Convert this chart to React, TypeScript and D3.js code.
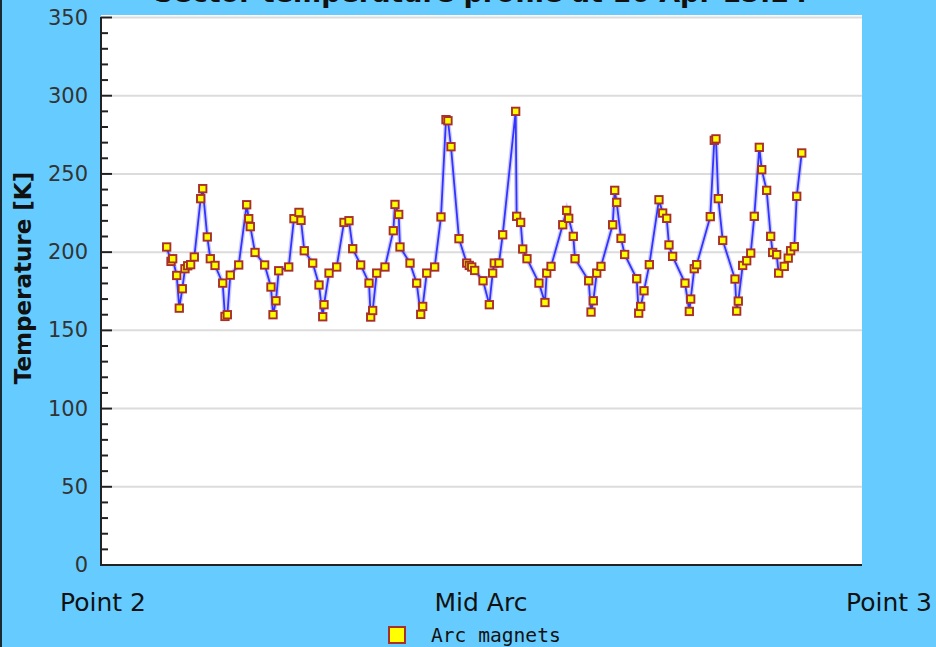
import React from "react";
import * as d3 from "d3";

// Position along the arc (% of the way from Point 2 to Point 3) and sector temperature [K]
const arcPosition: number[] = [
  8.39, 8.96, 9.18, 9.71, 10.05, 10.45, 10.8, 11.16, 11.55, 12.03, 12.87, 13.14, 13.74, 14.14, 14.76,
  15.77, 16.07, 16.38, 16.77, 17.88, 18.93, 19.2, 19.41, 20.03, 21.3, 22.13, 22.4, 22.79, 23.15, 24.47,
  25.16, 25.82, 26.09, 26.52, 27.63, 28.46, 28.95, 29.12, 29.78, 30.79, 31.75, 32.41, 32.9, 33.95, 35.05,
  35.27, 35.53, 36.06, 37.15, 38.25, 38.47, 38.96, 39.13, 40.45, 41.33, 41.86, 42.12, 42.65, 43.7, 44.53,
  45.19, 45.45, 45.85, 46.9, 47.92, 48.26, 48.58, 48.97, 50.07, 50.9, 51.34, 51.55, 52.17, 52.66, 54.37,
  54.5, 55.03, 55.3, 55.86, 57.44, 58.23, 58.46, 59.03, 60.57, 61.09, 61.36, 61.96, 62.19, 63.99, 64.3,
  64.6, 65.05, 65.61, 67.15, 67.42, 67.68, 68.25, 68.73, 70.32, 70.58, 70.84, 71.28, 71.98, 73.25, 73.74,
  74.27, 74.57, 75.05, 76.68, 77.25, 77.43, 77.9, 78.22, 80.01, 80.54, 80.76, 81.07, 81.65, 83.27, 83.49,
  83.7, 84.28, 84.81, 85.34, 85.81, 86.47, 86.79, 87.44, 87.97, 88.23, 88.76, 89.02, 89.76, 90.28, 90.6,
  91.08, 91.4, 92.06,
];

const temperature: number[] = [
  203.3, 194.1, 195.8, 185.1, 164.2, 176.6, 189.4, 191.3, 192, 196.9, 234.2, 240.6, 209.7, 195.8, 191.5,
  180.2, 158.9, 160, 185.3, 191.8, 230.3, 221.4, 216.3, 199.8, 191.8, 177.7, 160, 168.9, 188.1, 190.5,
  221.4, 225.4, 220.3, 200.9, 193, 179, 158.7, 166.4, 186.6, 190.5, 219, 220.1, 202.2, 191.8, 180.2,
  158.5, 162.7, 186.6, 190.5, 213.7, 230.5, 224.1, 203.3, 193, 180.2, 160.2, 165.3, 186.6, 190.5, 222.5,
  284.7, 284, 267.4, 208.6, 193, 191.5, 190.5, 188.3, 181.7, 166.4, 186.6, 193, 193, 211.1, 290,
  222.9, 219, 202, 195.8, 180.2, 167.8, 186.6, 190.9, 217.5, 226.7, 221.6, 210.1, 195.8, 181.7, 161.7,
  168.9, 186.6, 190.9, 217.5, 239.5, 231.8, 208.8, 198.5, 183, 161, 165.3, 175.3, 192, 233.5, 225,
  221.6, 204.6, 197.3, 180.2, 162.1, 170, 189.4, 192, 222.7, 271.5, 272.4, 234.2, 207.5, 182.8, 162.3,
  168.7, 191.5, 194.5, 199.4, 222.9, 267, 252.7, 239.5, 210.1, 199.8, 198.4, 186.6, 190.9, 196.2, 200.9,
  203.5, 235.7, 263.4,
];

const majorTicks: number[] = [0, 50, 100, 150, 200, 250, 300, 350];
const xLabels: string[] = ["Point 2", "Mid Arc", "Point 3"];
const titleText = "Sector temperature profile at 16 Apr 15:24";
const yTitle = "Temperature [K]";
const seriesName = "Arc magnets";

const W = 936;
const H = 647;
const plot = { left: 101, right: 862, top: 15, bottom: 565 };

export default function App() {
  const x = d3.scaleLinear().domain([0, 100]).range([103, plot.right]);
  const y = d3.scaleLinear().domain([0, 350]).range([plot.bottom, 17.5]);
  const minorTicks = d3.range(0, 351, 10).filter((t) => t % 50 !== 0);

  const pts: [number, number][] = arcPosition.map((p, i) => [p, temperature[i]]);
  const line = d3
    .line<[number, number]>()
    .x((d) => x(d[0]))
    .y((d) => y(d[1]));
  const path = line(pts) || "";

  const font = "'DejaVu Sans', Verdana, sans-serif";
  const ms = 7.4;

  return (
    <svg
      width={W}
      height={H}
      style={{ position: "absolute", left: 0, top: 0, display: "block" }}
    >
      <rect x={0} y={0} width={W} height={H} fill="#66ccff" />
      <rect x={0} y={0} width={2} height={H} fill="#1a2a33" />

      <text
        x={481}
        y={2}
        textAnchor="middle"
        fontFamily={font}
        fontWeight="bold"
        fontSize={27}
        fill="#111"
      >
        {titleText}
      </text>

      <rect
        x={plot.left}
        y={plot.top}
        width={plot.right - plot.left}
        height={plot.bottom - plot.top}
        fill="#ffffff"
      />

      {majorTicks
        .filter((t) => t > 0)
        .map((t) => (
          <line
            key={"g" + t}
            x1={112}
            x2={plot.right}
            y1={y(t)}
            y2={y(t)}
            stroke="#dcdcdc"
            strokeWidth={2}
          />
        ))}

      {majorTicks.map((t) => (
        <g key={"t" + t}>
          <line x1={plot.left} x2={112} y1={y(t)} y2={y(t)} stroke="#222" strokeWidth={2} />
          <text
            x={88}
            y={y(t)}
            textAnchor="end"
            dominantBaseline="central"
            fontFamily={font}
            fontSize={21}
            fill="#333"
          >
            {t}
          </text>
        </g>
      ))}
      {minorTicks.map((t) => (
        <line key={"m" + t} x1={plot.left} x2={108} y1={y(t)} y2={y(t)} stroke="#222" strokeWidth={2} />
      ))}

      <line x1={plot.left} x2={plot.left} y1={plot.top + 2} y2={plot.bottom + 1} stroke="#222" strokeWidth={2} />
      <line x1={plot.left} x2={plot.right} y1={plot.bottom} y2={plot.bottom} stroke="#222" strokeWidth={2} />

      <text
        transform={`translate(31,278) rotate(-90)`}
        textAnchor="middle"
        fontFamily={font}
        fontWeight="bold"
        fontSize={23}
        fill="#111"
      >
        {yTitle}
      </text>

      <path d={path} fill="none" stroke="#3b3bff" strokeOpacity={0.25} strokeWidth={4.5} />
      <path d={path} fill="none" stroke="#3333ff" strokeWidth={1.8} />

      {pts.map((d, i) => (
        <rect
          key={i}
          x={x(d[0]) - ms / 2}
          y={y(d[1]) - ms / 2}
          width={ms}
          height={ms}
          fill="#ffff00"
          stroke="#a8302a"
          strokeWidth={1.9}
        />
      ))}

      <text x={103} y={611} textAnchor="middle" fontFamily={font} fontSize={25} fill="#111">
        {xLabels[0]}
      </text>
      <text x={481} y={611} textAnchor="middle" fontFamily={font} fontSize={25} fill="#111">
        {xLabels[1]}
      </text>
      <text x={932} y={611} textAnchor="end" fontFamily={font} fontSize={25} fill="#111">
        {xLabels[2]}
      </text>

      <rect x={389} y={627} width={16} height={16} fill="#ffff00" stroke="#a8302a" strokeWidth={2} />
      <text x={431} y={642} fontFamily="'DejaVu Sans Mono', monospace" fontSize={19.6} fill="#111">
        {seriesName}
      </text>
    </svg>
  );
}
